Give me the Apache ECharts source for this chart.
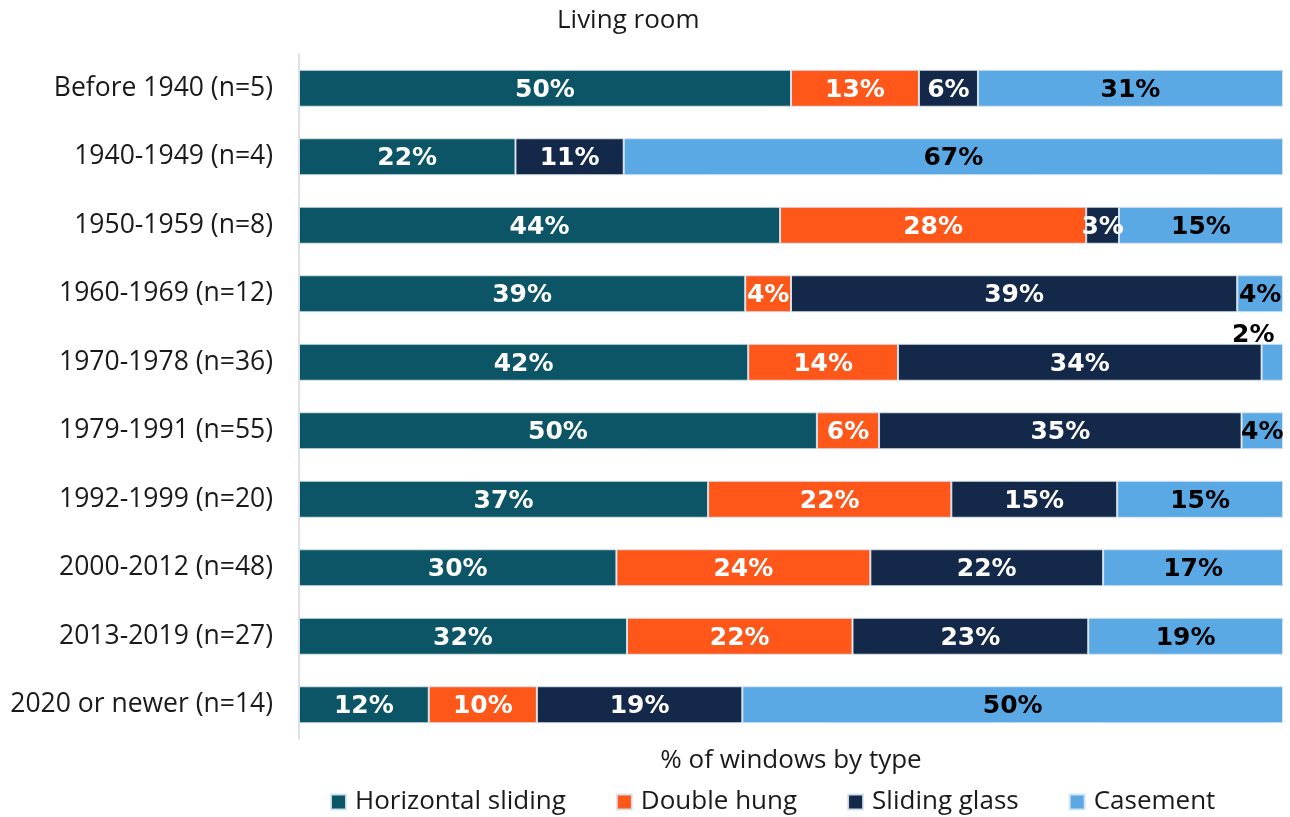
<!DOCTYPE html>
<html>
<head>
<meta charset="utf-8">
<script src="https://cdn.jsdelivr.net/npm/echarts@6/dist/echarts.min.js"></script>
<style>
  html, body { margin: 0; padding: 0; background: #fff; }
  #chart { width: 1290px; height: 817px; }
</style>
</head>
<body>
<div id="chart"></div>
<script>
const categories = ['Before 1940 (n=5)', '1940-1949 (n=4)', '1950-1959 (n=8)', '1960-1969 (n=12)',
    '1970-1978 (n=36)', '1979-1991 (n=55)', '1992-1999 (n=20)', '2000-2012 (n=48)',
    '2013-2019 (n=27)', '2020 or newer (n=14)']
const horizontalSliding = [50, 22, 44, 39, 42, 50, 37, 30, 32, 12]
const doubleHung = [13, null, 28, 4, 14, 6, 22, 24, 22, 10]
const slidingGlass = [6, 11, 3, 39, 34, 35, 15, 22, 23, 19]
const casement = [31, 67, 15, 4, 2, 4, 15, 17, 19, 50]

const font = 'Open Sans'
const boldFont = 'DejaVu Sans'
const seriesDefs = [
    { name: 'Horizontal sliding', data: horizontalSliding, color: '#0b5566', text: '#fff' },
    { name: 'Double hung', data: doubleHung, color: '#ff561a', text: '#fff' },
    { name: 'Sliding glass', data: slidingGlass, color: '#14284a', text: '#fff' },
    { name: 'Casement', data: casement, color: '#5aa9e4', text: '#000' }
]

// each row is drawn as share of its own total (bars fill the full width)
const rowTotals = categories.map((c, i) =>
    seriesDefs.reduce((s, d) => s + (d.data[i] || 0), 0))

const chart = echarts.init(document.getElementById('chart'))
chart.setOption({
    animation: false,
    title: {
        text: 'Living room',
        left: 557,
        top: 6,
        padding: 0,
        textStyle: { fontFamily: font, fontSize: 26, lineHeight: 30, fontWeight: 'normal', color: '#1a1a1a' }
    },
    legend: {
        top: 787,
        left: 330,
        padding: 0,
        itemWidth: 15,
        itemHeight: 15,
        itemGap: 50,
        icon: 'rect',
        textStyle: { fontFamily: font, fontSize: 26, lineHeight: 30, color: '#1a1a1a', padding: [0, 0, 0, 4] },
        data: seriesDefs.map(d => d.name)
    },
    grid: { left: 299, right: 7, top: 54, bottom: 78 },
    xAxis: {
        type: 'value',
        min: 0,
        max: 100,
        name: '% of windows by type',
        nameLocation: 'middle',
        nameGap: 7,
        nameTextStyle: { fontFamily: font, fontSize: 26, lineHeight: 30, color: '#1a1a1a', verticalAlign: 'top' },
        axisLabel: { show: false },
        axisLine: { show: false },
        axisTick: { show: false },
        splitLine: { show: false }
    },
    yAxis: {
        type: 'category',
        inverse: true,
        data: categories,
        axisLine: { show: true, lineStyle: { color: '#d6d6d6', width: 1.5 } },
        axisTick: { show: false },
        axisLabel: { fontFamily: font, fontSize: 26.5, color: '#1a1a1a', margin: 26 }
    },
    series: seriesDefs.map(d => ({
        name: d.name,
        type: 'bar',
        stack: 'total',
        barWidth: '54%',
        itemStyle: { color: d.color, borderColor: 'rgba(215,230,242,0.9)', borderWidth: 1 },
        label: {
            show: true,
            position: 'inside',
            offset: [0, 2],
            color: d.text,
            fontFamily: boldFont,
            fontSize: 25,
            fontWeight: 'bold',
            formatter: p => p.data.raw + '%'
        },
        data: d.data.map((v, i) => {
            if (v == null) return { value: null, raw: null, label: { show: false } }
            const item = { value: v / rowTotals[i] * 100, raw: v }
            // the small casement value in 1970-1978 is shown above the bar
            if (d.name === 'Casement' && i === 4) item.label = { offset: [-19, -27] }
            return item
        })
    }))
})
</script>
</body>
</html>
